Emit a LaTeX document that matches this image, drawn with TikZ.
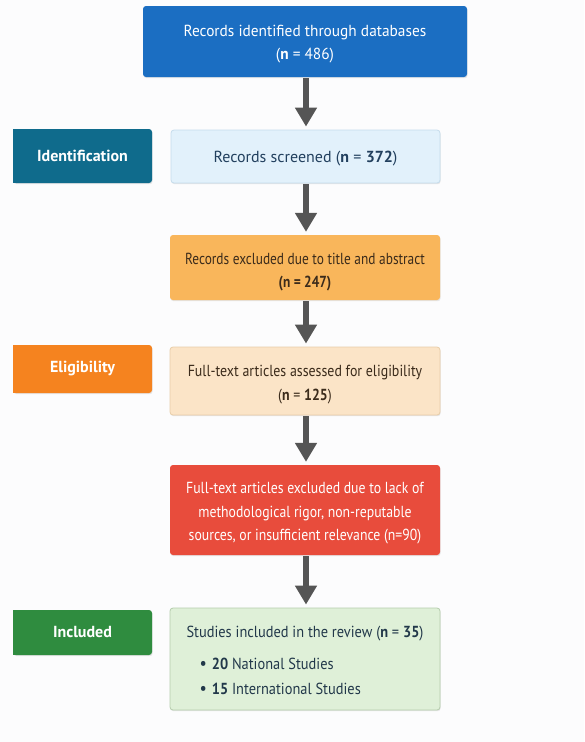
\documentclass[tikz,border=0pt]{standalone}
\usepackage{fontspec}
\setmainfont{PT Sans}
\newfontfamily\fsA[FakeStretch=0.96]{PT Sans}
\newfontfamily\fsB[FakeStretch=1.0]{PT Sans}
\newfontfamily\fsC[FakeStretch=0.835]{PT Sans}
\newfontfamily\fsD[FakeStretch=0.87]{PT Sans}
\newfontfamily\fsE[FakeStretch=0.86]{PT Sans}
\newfontfamily\fsF[FakeStretch=0.90]{PT Sans}
\usetikzlibrary{arrows.meta,shadows}
\definecolor{bgc}{HTML}{FCFCFD}
\definecolor{boxblue}{HTML}{1B6EC2}
\definecolor{teal}{HTML}{0F6B8C}
\definecolor{lblue}{HTML}{E2F1FB}
\definecolor{lblueb}{HTML}{C5DCEC}
\definecolor{lbluet}{HTML}{22405E}
\definecolor{orng}{HTML}{F9B65B}
\definecolor{orngt}{HTML}{3B2B1B}
\definecolor{eorng}{HTML}{F5831F}
\definecolor{peach}{HTML}{FBE4C7}
\definecolor{peachb}{HTML}{E8CDA8}
\definecolor{redb}{HTML}{E84C3C}
\definecolor{grn}{HTML}{2F8C3F}
\definecolor{lgrn}{HTML}{DFF0D8}
\definecolor{lgrnb}{HTML}{B5CDAC}
\definecolor{lgrnt}{HTML}{22384A}
\definecolor{arrc}{HTML}{555555}
\newcommand\upstrut[1]{\rule{0pt}{#1}}
\newcommand\blt{\hspace*{13pt}{\fontsize{18}{18}\selectfont\textbullet}\hspace{5pt}}
\tikzset{
  flowbox/.style={rounded corners=3pt, align=center, inner sep=0pt,
    drop shadow={shadow xshift=0.6pt,shadow yshift=-1.2pt,opacity=0.18}},
  stagebox/.style={rounded corners=3pt, align=center, inner sep=0pt,
    minimum width=139pt, text=white,
    font=\fontsize{16}{18}\selectfont\bfseries,
    drop shadow={shadow xshift=0.6pt,shadow yshift=-1.2pt,opacity=0.18}},
  flowarrow/.style={draw=arrc, line width=6.3pt,
    -{Triangle[width=21pt,length=19pt]}, shorten >=3pt, shorten <=1pt}
}
\begin{document}
\begin{tikzpicture}[x=1pt,y=-1pt]
\fill[bgc] (0,0) rectangle (584,742);
\useasboundingbox (0,0) rectangle (584,742);

\node[flowbox, font=\fsA\fontsize{16}{23.5}\selectfont, fill=boxblue, text=white, minimum width=324pt, minimum height=71pt] (b1) at (305,41.5)
  {\upstrut{17pt}Records identified through databases\\(\textbf{n} = 486)};
\node[flowbox, font=\fsB\fontsize{16}{23.5}\selectfont, fill=lblue, draw=lblueb, line width=0.8pt, text=lbluet, minimum width=269pt, minimum height=53pt] (b2) at (305.5,156.5)
  {\upstrut{16pt}Records screened (\textbf{n} = \textbf{372})};
\node[flowbox, font=\fsC\fontsize{16}{23.5}\selectfont, fill=orng, text=orngt, minimum width=270pt, minimum height=65pt] (b3) at (305,267.5)
  {\upstrut{21pt}Records excluded due to title and abstract\\\textbf{(n = 247)}};
\node[flowbox, font=\fsD\fontsize{16}{23.5}\selectfont, fill=peach, draw=peachb, line width=0.8pt, text=orngt, minimum width=270pt, minimum height=68pt] (b4) at (305,381)
  {\upstrut{18.5pt}Full-text articles assessed for eligibility\\(\textbf{n} = \textbf{125})};
\node[flowbox, font=\fsE\fontsize{16}{23.5}\selectfont, fill=redb, text=white, minimum width=270pt, minimum height=90pt] (b5) at (305,510)
  {\upstrut{18.5pt}Full-text articles excluded due to lack of\\methodological rigor, non-reputable\\sources, or insufficient relevance (n=90)};
\node[flowbox, font=\fsF\fontsize{16}{25.5}\selectfont, fill=lgrn, draw=lgrnb, line width=0.8pt, text=lgrnt, minimum width=270pt, minimum height=102pt, align=left] (b6) at (305,659)
  {\upstrut{15pt}Studies included in the review (\textbf{n} = \textbf{35})\\[6pt]
   \blt\textbf{20} National Studies\\
   \blt\textbf{15} International Studies};

\node[stagebox, fill=teal, minimum height=54pt] (s1) at (82.5,156) {Identification};
\node[stagebox, fill=eorng, minimum height=48pt] (s2) at (82.5,369) {Eligibility};
\node[stagebox, fill=grn, minimum height=45pt] (s3) at (82.5,632.5) {Included};
\fill[teal] (s1.south west) rectangle ([xshift=6pt]s1.north west);
\fill[eorng] (s2.south west) rectangle ([xshift=6pt]s2.north west);
\fill[grn] (s3.south west) rectangle ([xshift=6pt]s3.north west);

\draw[flowarrow] (b1.south -| 306,0) -- (b2.north -| 306,0);
\draw[flowarrow] (b2.south -| 306,0) -- (b3.north -| 306,0);
\draw[flowarrow] (b3.south -| 306,0) -- (b4.north -| 306,0);
\draw[flowarrow] (b4.south -| 306,0) -- (b5.north -| 306,0);
\draw[flowarrow] (b5.south -| 306,0) -- (b6.north -| 306,0);
\end{tikzpicture}
\end{document}
